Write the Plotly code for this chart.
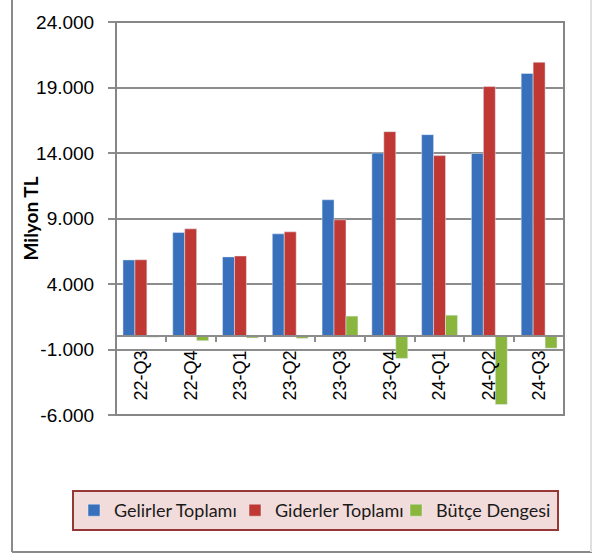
import plotly.graph_objects as go

categories = ["22-Q3", "22-Q4", "23-Q1", "23-Q2", "23-Q3", "23-Q4", "24-Q1", "24-Q2", "24-Q3"]
gelirler = [5840, 7930, 6070, 7830, 10430, 14000, 15400, 13970, 20070]
giderler = [5850, 8210, 6140, 7980, 8900, 15630, 13800, 19070, 20930]
butce = [-60, -330, -120, -150, 1550, -1680, 1620, -5200, -900]
y_ticks = [-6000, -1000, 4000, 9000, 14000, 19000, 24000]
y_tick_labels = ["-6.000", "-1.000", "4.000", "9.000", "14.000", "19.000", "24.000"]

W, H = 592, 556
L, R, T, B = 116, 564, 22, 415

def px(x):
    return (x - L) / (R - L)

def py(y):
    return (B - y) / (B - T)

fig = go.Figure()
fig.add_bar(name="Gelirler Toplamı", x=categories, y=gelirler, marker_color="#3870bb")
fig.add_bar(name="Giderler Toplamı", x=categories, y=giderler, marker_color="#c03834")
fig.add_bar(name="Bütçe Dengesi", x=categories, y=butce, marker_color="#8ab63e")

fig.update_layout(
    width=W, height=H,
    margin=dict(l=L, r=W - R, t=T, b=H - B, autoexpand=False),
    paper_bgcolor="white", plot_bgcolor="white",
    barmode="group", bargap=0.28, bargroupgap=0,
    font=dict(family="Liberation Sans, Arial", size=18, color="black"),
    showlegend=True,
    legend=dict(
        orientation="h", x=px(72), y=py(490), xanchor="left", yanchor="top",
        bgcolor="#f2dcdb", bordercolor="#953735", borderwidth=2,
        font=dict(family="Lato", size=18, color="#1a1a1a"),
        entrywidth=116, entrywidthmode="pixels",
    ),
    xaxis=dict(
        type="category", anchor="free", position=0.2,
        showline=True, linecolor="#8c8c8c", linewidth=2,
        ticks="outside", tickson="boundaries", ticklen=5, tickcolor="#8c8c8c", tickwidth=2,
        tickangle=-90, showgrid=False, ticklabelstandoff=6,
        tickfont=dict(family="Liberation Sans, Arial", size=18, color="black"),
    ),
    yaxis=dict(
        range=[-6000, 24000], tickvals=y_ticks, ticktext=y_tick_labels,
        showgrid=True, gridcolor="#8c8c8c", gridwidth=2, zeroline=False,
        showline=False, ticks="outside", ticklen=7, tickcolor="#8c8c8c", tickwidth=2,
        ticklabelstandoff=10,
        tickfont=dict(family="Liberation Sans, Arial", size=19, color="black"),
    ),
)

# plot area border
fig.add_shape(type="rect", xref="paper", yref="paper", x0=0, x1=1, y0=0, y1=1,
              line=dict(color="#868686", width=2), layer="above")
# outer chart border
fig.add_shape(type="line", xref="paper", yref="paper", x0=px(12), x1=px(12), y0=py(-5), y1=py(552),
              line=dict(color="#8a8a8a", width=2))
fig.add_shape(type="line", xref="paper", yref="paper", x0=px(12), x1=px(600), y0=py(552), y1=py(552),
              line=dict(color="#8a8a8a", width=2))
fig.add_shape(type="line", xref="paper", yref="paper", x0=px(591), x1=px(591), y0=py(-5), y1=py(552),
              line=dict(color="#e0e0e0", width=2))

fig.add_annotation(text="<b>Milyon TL</b>", xref="paper", yref="paper", x=px(30), y=0.5,
                   xanchor="center", yanchor="middle",
                   textangle=-90, showarrow=False,
                   font=dict(family="Lato", size=19, color="black"))

fig.write_html("out.html", config={"displayModeBar": False},
               post_script="document.body.style.margin='0px';document.body.style.overflow='hidden';")
